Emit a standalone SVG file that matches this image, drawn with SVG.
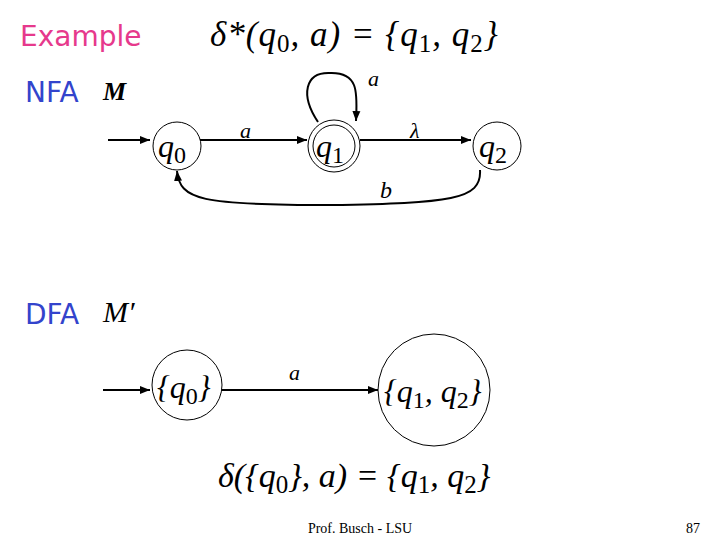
<svg xmlns="http://www.w3.org/2000/svg" width="720" height="540" viewBox="0 0 720 540">
<style>
.m{font-family:"Liberation Serif",serif;font-style:italic;fill:#000}
.s{fill:none;stroke:#000;stroke-width:1}
.e{fill:none;stroke:#000;stroke-width:2}
.h{font-family:"DejaVu Sans",sans-serif;font-size:28px}
</style>
<defs><marker id="a" viewBox="0 0 10 10" refX="10" refY="5" markerWidth="5" markerHeight="5" orient="auto"><path d="M0,1L10,5L0,9z" fill="#000"/></marker></defs>
<rect width="720" height="540" fill="#fff"/>
<text x="20" y="46" class="h" fill="#e6398c">Example</text>
<text x="25" y="102" class="h" fill="#3344cc">NFA</text>
<text x="25" y="324" class="h" fill="#3344cc">DFA</text>
<text x="210" y="46" class="m" font-size="35" letter-spacing="1">δ*(q<tspan font-size="25" dy="6" font-style="normal">0</tspan><tspan dy="-6">, a) = {q</tspan><tspan font-size="25" dy="6" font-style="normal">1</tspan><tspan dy="-6">, q</tspan><tspan font-size="25" dy="6" font-style="normal">2</tspan><tspan dy="-6">}</tspan></text>
<text x="103" y="100" class="m" font-size="26" font-weight="bold">M</text>
<text x="103" y="322" class="m" font-size="30">M′</text>
<g id="edges">
<path class="e" d="M108,140H150" marker-end="url(#a)"/>
<path class="e" d="M200,140H307" marker-end="url(#a)"/>
<path class="e" d="M360,140H471" marker-end="url(#a)"/>
<path class="e" d="M318,122C300,95 305,72 330,73C360,72 357,95 356,121" marker-end="url(#a)"/>
<path class="e" d="M480,170C482,200 450,203 330,205C200,205 180,200 177,171" marker-end="url(#a)"/>
<path class="e" d="M103,390H150" marker-end="url(#a)"/>
<path class="e" d="M222,390H378" marker-end="url(#a)"/>
</g>
<text x="240" y="138" class="m" font-size="22">a</text>
<text x="368" y="86" class="m" font-size="22">a</text>
<text x="410" y="138" class="m" font-size="22">λ</text>
<text x="380" y="198" class="m" font-size="24">b</text>
<text x="289" y="380" class="m" font-size="22">a</text>
<g id="q0"><circle class="s" cx="177" cy="146" r="24"/><text x="158" y="157" class="m" font-size="32">q<tspan font-size="24" dy="6" font-style="normal">0</tspan></text></g>
<g id="q1"><circle class="s" cx="334" cy="146" r="26"/><circle class="s" cx="334" cy="146" r="21"/><text x="316" y="157" class="m" font-size="32">q<tspan font-size="24" dy="6" font-style="normal">1</tspan></text></g>
<g id="q2"><circle class="s" cx="497" cy="146" r="24"/><text x="479" y="157" class="m" font-size="32">q<tspan font-size="24" dy="6" font-style="normal">2</tspan></text></g>
<g id="d0"><circle class="s" cx="187" cy="385" r="35"/><text x="157" y="398" class="m" font-size="32">{q<tspan font-size="24" dy="6" font-style="normal">0</tspan><tspan dy="-6">}</tspan></text></g>
<g id="d1"><circle class="s" cx="434" cy="390" r="56"/><text x="384" y="402" class="m" font-size="32">{q<tspan font-size="24" dy="6" font-style="normal">1</tspan><tspan dy="-6">, q</tspan><tspan font-size="24" dy="6" font-style="normal">2</tspan><tspan dy="-6">}</tspan></text></g>
<text x="218" y="487" class="m" font-size="34">δ({q<tspan font-size="25" dy="6" font-style="normal">0</tspan><tspan dy="-6">}, a) = {q</tspan><tspan font-size="25" dy="6" font-style="normal">1</tspan><tspan dy="-6">, q</tspan><tspan font-size="25" dy="6" font-style="normal">2</tspan><tspan dy="-6">}</tspan></text>
<text x="360" y="533" font-family="Liberation Serif,serif" font-size="14" text-anchor="middle">Prof. Busch - LSU</text>
<text x="700" y="533" font-family="Liberation Serif,serif" font-size="14" text-anchor="end">87</text>
</svg>
